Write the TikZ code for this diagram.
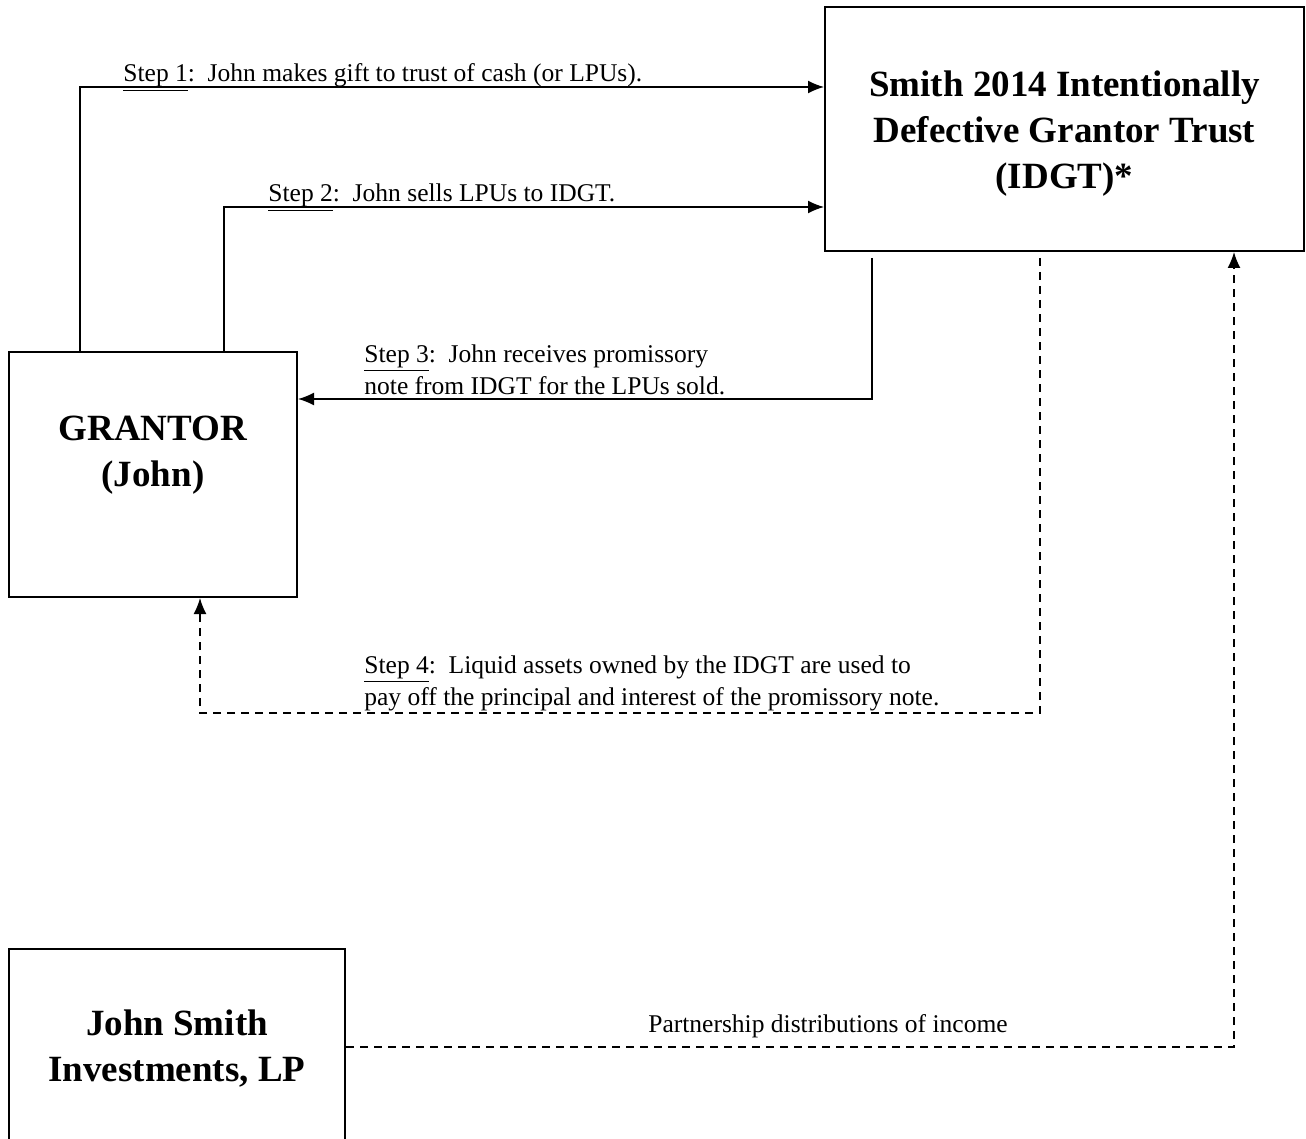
\documentclass[tikz,border=0pt]{standalone}
\usepackage{fontspec}
\setmainfont{Liberation Serif}
\usetikzlibrary{positioning, arrows.meta}

\begin{document}
\begin{tikzpicture}[x=0.5pt, y=-0.5pt,
        EntityNode/.style={rectangle, draw=black, line width=1pt, inner sep=0pt},
        TitleText/.style={align=center, inner sep=0pt, font=\fontsize{18.5}{23}\selectfont\bfseries},
        StepText/.style={align=left, anchor=base west, inner sep=0pt, font=\fontsize{12.76}{16}\selectfont},
        FlowLine/.style={line width=0.75pt, -{Latex[length=8pt, width=6.5pt]}},
        PayLine/.style={FlowLine, dash pattern=on 4pt off 3pt}]

    \clip (0,0) rectangle (1306,1139);

    % Boxes
    \node[EntityNode, minimum width=239.5pt, minimum height=122pt] (Trust) at (1064.5,129) {};
    \node[EntityNode, minimum width=144pt, minimum height=122.5pt] (Grantor) at (153,474.5) {};
    \node[EntityNode, minimum width=168pt, minimum height=125.5pt] (Fund) at (177,1074.5) {};

    % Box titles
    \node[TitleText] (TrustName) at (1064.5,134) {Smith 2014 Intentionally\\Defective Grantor Trust\\(IDGT)*};
    \node[TitleText] (GrantorName) at (153,455) {GRANTOR\\(John)};
    \node[TitleText] (FundName) at (177,1049) {John Smith\\Investments, LP};

    % Lines
    \draw[FlowLine] ([xshift=36pt]Grantor.north west) |- ([yshift=-40.5pt]Trust.north west);
    \draw[FlowLine] ([xshift=108pt]Grantor.north west) |- ([yshift=-100.5pt]Trust.north west);
    \draw[FlowLine] ([xshift=24pt, yshift=-3pt]Trust.south west) |- ([yshift=-24pt]Grantor.north east);
    \draw[PayLine] ([xshift=108pt, yshift=-3pt]Trust.south west) -- ++(0,455) -| ([xshift=96pt]Grantor.south west);
    \draw[PayLine] ([yshift=-49.5pt]Fund.north east) -| ([xshift=-35.5pt]Trust.south east);

    % Step labels
    \node[StepText] (StepOne) at (123,82) {\underline{Step 1}:\ \ John makes gift to trust of cash (or LPUs).};
    \node[StepText] (StepTwo) at (268,202) {\underline{Step 2}:\ \ John sells LPUs to IDGT.};
    \node[StepText] (StepThree) at (364,394) {\underline{Step 3}:\ \ John receives promissory\\note from IDGT for the LPUs sold.};
    \node[StepText] (StepFour) at (364,705) {\underline{Step 4}:\ \ Liquid assets owned by the IDGT are used to\\pay off the principal and interest of the promissory note.};
    \node[StepText, anchor=base] (Income) at (828,1032) {Partnership distributions of income};
\end{tikzpicture}
\end{document}
